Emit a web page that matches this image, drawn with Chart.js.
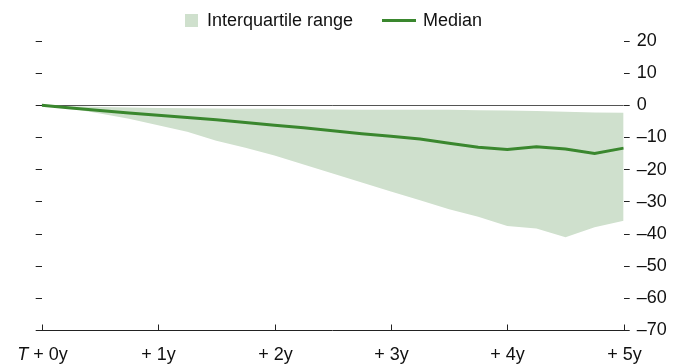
<!DOCTYPE html>
<html>
<head>
<meta charset="utf-8">
<script src="https://cdn.jsdelivr.net/npm/chart.js@4.4.1/dist/chart.umd.min.js"></script>
<style>
  body { margin: 0; background: #fff; }
  #wrap { position: relative; width: 685px; height: 364px; font-family: "Liberation Sans", Arial, sans-serif; }
  #chartCanvas { position: absolute; left: 0; top: 0; }
  .legend { position: absolute; top: 10px; left: 185px; display: flex; align-items: center; font-size: 18px; color: #111; }
  .legend .box { width: 13px; height: 13px; background: #cfe0cd; margin-right: 9px; }
  .legend .line { width: 34px; height: 3px; background: #3a872e; margin-left: 29px; margin-right: 7px; }
</style>
</head>
<body>
<div id="wrap">
  <canvas id="chartCanvas" width="685" height="364"></canvas>
  <div class="legend">
    <span class="box"></span><span>Interquartile range</span>
    <span class="line"></span><span>Median</span>
  </div>
</div>
<script>
// quarters after T (years)
const quarters = [0, 0.25, 0.5, 0.75, 1, 1.25, 1.5, 1.75, 2, 2.25, 2.5, 2.75, 3, 3.25, 3.5, 3.75, 4, 4.25, 4.5, 4.75, 5];
const upperQuartile = [0, -0.3, -0.5, -0.7, -0.8, -0.9, -1.0, -1.1, -1.1, -1.2, -1.3, -1.4, -1.4, -1.4, -1.4, -1.5, -1.6, -1.8, -2.0, -2.2, -2.3];
const lowerQuartile = [0, -1.0, -2.5, -4.2, -6.2, -8.2, -11.0, -13.2, -15.6, -18.4, -21.2, -24.0, -26.8, -29.5, -32.3, -34.6, -37.5, -38.3, -41.0, -37.9, -35.9];
const median = [0, -0.8, -1.6, -2.4, -3.1, -3.8, -4.5, -5.3, -6.2, -7.0, -7.9, -8.8, -9.6, -10.5, -11.8, -13.0, -13.7, -12.9, -13.6, -15.0, -13.3];

const yearTicks = [0, 1, 2, 3, 4, 5];
const yearLabels = ['T + 0y', '+ 1y', '+ 2y', '+ 3y', '+ 4y', '+ 5y'];
const yMin = -70;
const yMax = 20;
const yStep = 10;

const FONT = '"Liberation Sans", Arial, sans-serif';

function toPoints(values) {
    return quarters.map((q, i) => ({ x: q, y: values[i] }));
}

// x axis: small upward ticks and labels, "T" in italics
const yearAxisPlugin = {
    id: 'yearAxis',
    afterDraw(chart) {
        const { ctx, chartArea } = chart;
        const xScale = chart.scales.x;
        ctx.save();
        ctx.strokeStyle = '#222';
        ctx.lineWidth = 1;
        ctx.fillStyle = '#111';
        ctx.textBaseline = 'alphabetic';
        yearTicks.forEach((yr, i) => {
            const px = Math.round(xScale.getPixelForValue(yr)) + 0.5;
            ctx.beginPath();
            ctx.moveTo(px, chartArea.bottom);
            ctx.lineTo(px, chartArea.bottom - 6);
            ctx.stroke();

            const label = yearLabels[i];
            const baseY = 360;
            if (label.startsWith('T')) {
                ctx.font = 'italic 18px ' + FONT;
                const wT = ctx.measureText('T').width;
                ctx.font = '18px ' + FONT;
                const rest = label.slice(1);
                const wR = ctx.measureText(rest).width;
                let startX = px - (wT + wR) / 2;
                ctx.textAlign = 'left';
                ctx.font = 'italic 18px ' + FONT;
                ctx.fillText('T', startX, baseY);
                ctx.font = '18px ' + FONT;
                ctx.fillText(rest, startX + wT, baseY);
            } else {
                ctx.font = '18px ' + FONT;
                ctx.textAlign = 'center';
                ctx.fillText(label, px, baseY);
            }
        });
        ctx.restore();
    }
};

const canvas = document.getElementById('chartCanvas');
const ctx = canvas.getContext('2d');

new Chart(ctx, {
    type: 'line',
    data: {
        datasets: [
            {
                label: 'Interquartile range',
                data: toPoints(upperQuartile),
                borderWidth: 0,
                pointRadius: 0,
                backgroundColor: '#cfe0cd',
                fill: '+1',
                order: 2
            },
            {
                label: 'lower',
                data: toPoints(lowerQuartile),
                borderWidth: 0,
                pointRadius: 0,
                fill: false,
                order: 2
            },
            {
                label: 'Median',
                data: toPoints(median),
                borderColor: '#3a872e',
                borderWidth: 3,
                pointRadius: 0,
                fill: false,
                order: 1
            }
        ]
    },
    options: {
        responsive: false,
        animation: false,
        layout: { padding: { top: 41, left: 0, right: 0, bottom: 0 } },
        plugins: {
            legend: { display: false },
            tooltip: { enabled: false }
        },
        scales: {
            x: {
                type: 'linear',
                min: 0,
                max: 5,
                grid: { display: false },
                border: { display: true, color: '#222', width: 1 },
                ticks: { display: false },
                afterFit(scale) { scale.height = 33.5; }
            },
            yLeft: {
                type: 'linear',
                position: 'left',
                min: yMin,
                max: yMax,
                ticks: { stepSize: yStep, display: false },
                border: { display: false },
                grid: {
                    drawTicks: true,
                    tickLength: 6,
                    color: (c) => (c.tick && c.tick.value === 0 ? '#555' : 'rgba(0,0,0,0)'),
                    tickColor: '#222',
                    lineWidth: 1
                },
                afterFit(scale) { scale.width = 41.7; }
            },
            y: {
                type: 'linear',
                position: 'right',
                min: yMin,
                max: yMax,
                border: { display: false },
                grid: {
                    drawOnChartArea: false,
                    drawTicks: true,
                    tickLength: 6,
                    tickColor: '#222'
                },
                ticks: {
                    stepSize: yStep,
                    padding: 7,
                    color: '#111',
                    font: { family: FONT, size: 18 },
                    callback: (v) => (v < 0 ? '\u2013' + Math.abs(v) : String(v))
                },
                afterFit(scale) { scale.width = 61.3; }
            }
        }
    },
    plugins: [yearAxisPlugin]
});
</script>
</body>
</html>
